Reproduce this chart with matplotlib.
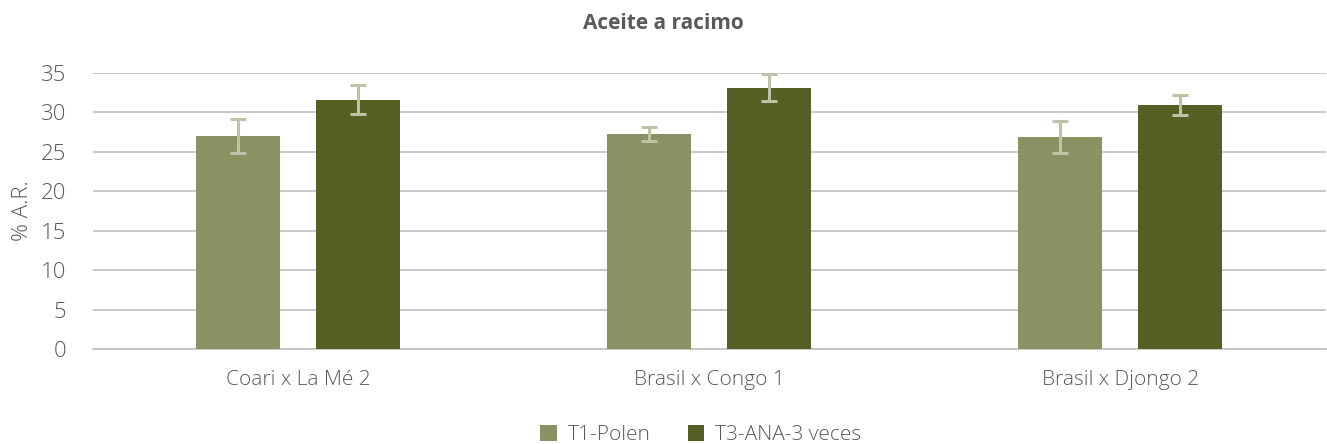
import numpy as np
import matplotlib.pyplot as plt

# data
cruces = ["Coari x La Mé 2", "Brasil x Congo 1", "Brasil x Djongo 2"]
polen = [27.0, 27.2, 26.9]
polen_err = [2.15, 0.9, 2.0]
ana = [31.6, 33.1, 30.9]
ana_err = [1.85, 1.7, 1.3]
series_names = ["T1-Polen", "T3-ANA-3 veces"]

plt.rcParams['font.family'] = ['Open Sans', 'DejaVu Sans']
gris = "#595959"
fs = 15

fig = plt.figure(figsize=(13.27, 4.44), dpi=100)
ax = fig.add_axes([0.070, 0.214, 0.929, 0.622])

x = np.arange(len(cruces))
w = 0.204
off = 0.146
ekw = dict(ecolor="#bcc4a6", elinewidth=2.2, capsize=6, capthick=2.2)
ax.bar(x - off, polen, w, yerr=polen_err, color="#8a9163", label=series_names[0],
	error_kw=ekw, zorder=3)
ax.bar(x + off, ana, w, yerr=ana_err, color="#556024", label=series_names[1],
	error_kw=ekw, zorder=3)

ax.set_xlim(-0.5, 2.5)
ax.set_ylim(0, 35)
ax.set_yticks(range(0, 36, 5))
ax.set_xticks(x)
ax.set_xticklabels(cruces, fontweight="light")
ax.yaxis.grid(True, color="#bfbfbf", linewidth=1.2, zorder=0)
for s in ["top", "right", "left"]:
	ax.spines[s].set_visible(False)
ax.spines["bottom"].set_color("#bfbfbf")
ax.spines["bottom"].set_linewidth(1.2)
ax.tick_params(axis="both", length=0, colors=gris, labelsize=fs)
ax.tick_params(axis="x", pad=15)
ax.tick_params(axis="y", pad=19, labelsize=16)
for t in ax.get_yticklabels():
	t.set_fontweight("light")
ax.set_ylabel("% A.R.", color=gris, fontsize=16, fontweight="light")
ax.yaxis.set_label_coords(-0.0485, 0.5)

fig.suptitle("Aceite a racimo", y=0.97, fontsize=15, fontweight="bold", color=gris)
fig.legend(loc="lower center", ncol=2, frameon=False,
	prop={"size": fs, "weight": "light"},
	labelcolor=gris, bbox_to_anchor=(0.528, -0.045), handlelength=0.8,
	handleheight=0.8, columnspacing=1.8, handletextpad=0.5)

fig.savefig("out.png", dpi=100)
